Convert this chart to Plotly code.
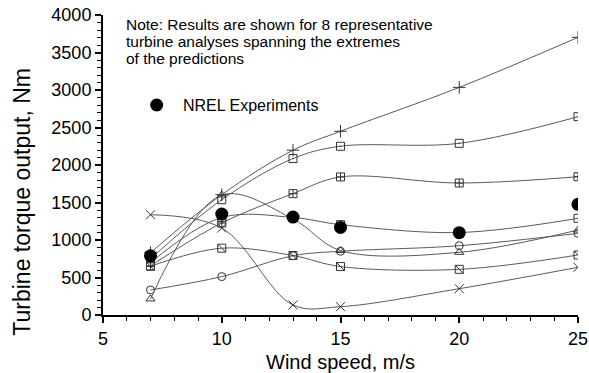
import plotly.graph_objects as go

# Wind speeds (m/s) at which each turbine analysis was evaluated
wind_speed = [7, 10, 13, 15, 20, 25]

# Predicted turbine torque (Nm) for the 8 representative analyses
torque_plus = [830, 1604, 2197, 2450, 3035, 3702]
torque_sq_dot = [749, 1537, 2086, 2250, 2289, 2644]
torque_sq_cross = [655, 1226, 1618, 1841, 1760, 1844]
torque_square = [700, 1300, 1300, 1205, 1100, 1289]
torque_triangle = [214, 1600, 1280, 860, 836, 1133]
torque_circle = [334, 512, 790, 850, 924, 1089]
torque_sq_slash = [650, 891, 793, 646, 609, 800]
torque_x = [1337, 1160, 134, 111, 351, 636]

# NREL measured torque (Nm)
nrel_torque = [789, 1346, 1306, 1168, 1098, 1476]

note_lines = [
    "Note: Results are shown for 8 representative",
    "turbine analyses spanning the extremes",
    "of the predictions",
]

LINE_COLOR = "#5a5a5a"
MARK_COLOR = "#333333"
FONT = "Liberation Sans, Arial, sans-serif"

series = [
    (torque_square, "square-open"),
    (torque_circle, "circle-open"),
    (torque_triangle, "triangle-up-open"),
    (torque_sq_slash, "square-open"),
    (torque_x, "x-thin-open"),
    (torque_sq_cross, "square-cross-open"),
    (torque_sq_dot, "square-open-dot"),
    (torque_plus, "cross-thin-open"),
]

fig = go.Figure()

for values, symbol in series:
    fig.add_trace(go.Scatter(
        x=wind_speed, y=values, mode="lines+markers",
        line=dict(color=LINE_COLOR, width=1, shape="spline", smoothing=1.0),
        marker=dict(symbol=symbol, size=9 if "thin" in symbol else 8,
                    color=MARK_COLOR, line=dict(color=MARK_COLOR, width=1)),
        showlegend=False, hoverinfo="x+y",
    ))

# diagonal stroke inside the slashed squares
fig.add_trace(go.Scatter(
    x=wind_speed, y=torque_sq_slash, mode="markers",
    marker=dict(symbol="line-nw", size=8, color=MARK_COLOR,
                line=dict(color=MARK_COLOR, width=1)),
    showlegend=False, hoverinfo="skip",
))

# measured data
fig.add_trace(go.Scatter(
    x=wind_speed, y=nrel_torque, mode="markers",
    marker=dict(symbol="circle", size=13, color="black"),
    showlegend=False, name="NREL Experiments",
))

# legend entry for the measurements
fig.add_trace(go.Scatter(
    x=[7.26], y=[2800], mode="markers",
    marker=dict(symbol="circle", size=13, color="black"),
    showlegend=False, hoverinfo="skip",
))
fig.add_annotation(
    x=8.28, y=2800, xanchor="left", yanchor="middle", showarrow=False,
    text="NREL Experiments", font=dict(family=FONT, size=16, color="black"),
)

# note text, one annotation per line
for i, line in enumerate(note_lines):
    fig.add_annotation(
        x=0.044, y=3870 - i * 222, xref="paper", yref="y",
        xanchor="left", yanchor="middle", showarrow=False,
        text=line, font=dict(family=FONT, size=15.5, color="black"),
    )

# y axis title
fig.add_annotation(
    x=-0.171, y=0.377, xref="paper", yref="paper",
    xanchor="center", yanchor="middle", showarrow=False, textangle=-90,
    text="Turbine torque output, Nm", font=dict(family=FONT, size=23, color="black"),
)

axis_common = dict(
    showline=True, linecolor="black", linewidth=2,
    ticks="outside", ticklen=6, tickwidth=1.5, tickcolor="black",
    showgrid=False, zeroline=False, automargin=False,
    tickfont=dict(family=FONT, size=18, color="black"),
)

fig.update_xaxes(
    range=[5, 25], dtick=5, tick0=5,
    minor=dict(ticks="outside", ticklen=4, tickwidth=1, tickcolor="black", dtick=1),
    title=dict(text="Wind speed, m/s", font=dict(family=FONT, size=20, color="black"), standoff=8),
    **axis_common,
)
fig.update_yaxes(
    range=[0, 4000], dtick=500,
    minor=dict(ticks="outside", ticklen=4, tickwidth=1, tickcolor="black", dtick=100),
    **axis_common,
)

fig.update_layout(
    width=589, height=373,
    margin=dict(l=103, r=11, t=15, b=58),
    paper_bgcolor="white", plot_bgcolor="white",
)

fig.write_html("out.html")
